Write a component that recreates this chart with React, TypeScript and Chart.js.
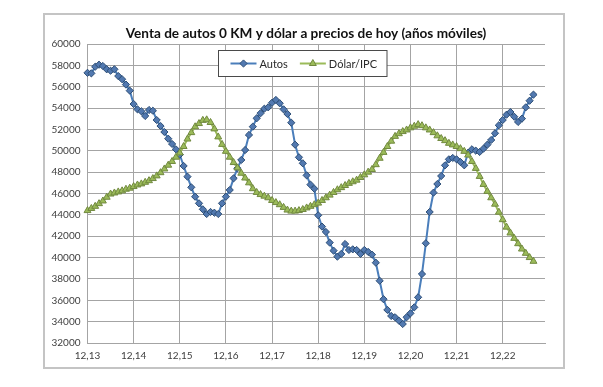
import React, { useEffect, useRef } from 'react';
import { Chart, registerables } from 'chart.js';
import { drawPoint } from 'chart.js/helpers';

Chart.register(...registerables);

const TITLE = 'Venta de autos 0 KM y dólar a precios de hoy (años móviles)';
const tickLabels = ['12,13', '12,14', '12,15', '12,16', '12,17', '12,18', '12,19', '12,20', '12,21', '12,22'];
const MONTHS_PER_TICK = 12;
const CATEGORY_COUNT = 120;
const seriesNames = ['Autos', 'Dólar/IPC'];
const Y_MIN = 32000;
const Y_MAX = 60000;
const Y_STEP = 2000;

const autos = [
  57300, 57250, 57870, 58060, 57940, 57630, 57500, 57630, 57000, 56700,
  56200, 55630, 54380, 53880, 53700, 53260, 53820, 53750, 52880, 52320,
  51760, 51130, 50640, 50140, 49640, 48580, 47580, 46580, 45700, 45080,
  44520, 44080, 44270, 44200, 44080, 45080, 45700, 46330, 47420, 48360,
  49140, 50070, 51480, 52260, 53040, 53510, 53940, 54070, 54500, 54760,
  54450, 53880, 53450, 52630, 50570, 49390, 48830, 47700, 46830, 46450,
  43960, 42900, 42400, 41400, 40650, 40090, 40340, 41270, 40710, 40770,
  40710, 40340, 40710, 40530, 40270, 39520, 37830, 36100, 35100, 34530,
  34410, 34090, 33780, 34410, 34780, 35340, 36280, 38460, 41340, 44270,
  46080, 46890, 47640, 48640, 49200, 49330, 49200, 48950, 48640, 49820,
  50140, 50010, 49890, 50200, 50570, 51010, 51640, 52390, 52880, 53380,
  53630, 53190, 52700, 53010, 54070, 54690, 55260,
];

const dolarIpc = [
  44400, 44600, 44800, 45050, 45300, 45650, 45950, 46050, 46150, 46250,
  46400, 46500, 46650, 46800, 46900, 47050, 47200, 47400, 47650, 47950,
  48300, 48650, 49000, 49400, 49800, 50400, 51100, 51700, 52250, 52550,
  52850, 52900, 52650, 52050, 51300, 50600, 49950, 49400, 48900, 48400,
  47900, 47450, 47000, 46450, 46100, 45900, 45750, 45600, 45350, 45150,
  44950, 44700, 44450, 44350, 44350, 44400, 44500, 44650, 44800, 44950,
  45100, 45350, 45600, 45850, 46100, 46350, 46550, 46750, 46950, 47100,
  47250, 47500, 47750, 48000, 48250, 48700, 49300, 49850, 50400, 50900,
  51350, 51600, 51800, 51950, 52150, 52300, 52450, 52350, 52150, 51950,
  51700, 51400, 51150, 50950, 50700, 50550, 50400, 50200, 49950, 49600,
  49000, 48350, 47600, 46850, 46200, 45600, 45000, 44250, 43550, 42850,
  42300, 41800, 41300, 40800, 40400, 40000, 39650,
];

const categories = Array.from({ length: CATEGORY_COUNT }, (_, i) =>
  i % MONTHS_PER_TICK === 0 ? tickLabels[i / MONTHS_PER_TICK] ?? '' : ''
);

const FONT = 'Lato, "Open Sans", sans-serif';
const GRID = '#a4a4a4';

const chartTitle = {
  id: 'chartTitle',
  afterDraw(chart: any) {
    const ctx = chart.ctx as CanvasRenderingContext2D;
    ctx.save();
    ctx.font = `bold 13.6px ${FONT}`;
    ctx.fillStyle = '#111111';
    ctx.textAlign = 'center';
    ctx.textBaseline = 'middle';
    ctx.fillText(TITLE, chart.width / 2 + 2, 18.5);
    ctx.restore();
  },
};

const boxLegend = {
  id: 'boxLegend',
  afterDraw(chart: any) {
    const ctx = chart.ctx as CanvasRenderingContext2D;
    const datasets = chart.data.datasets;
    ctx.save();
    ctx.font = `11px ${FONT}`;
    const lineLen = 26;
    const gapLT = 3;
    const gapItems = 12;
    const padL = 12;
    const padR = 10;
    const h = 26;
    const widths = datasets.map((d: any) => ctx.measureText(d.label).width);
    const total =
      padL + padR + widths.reduce((s: number, w: number) => s + lineLen + gapLT + w, 0) + gapItems * (datasets.length - 1);
    const left = Math.round(chart.width / 2 - total / 2) - 1.5;
    const top = Math.round(chart.chartArea.top + 6) + 0.5;
    ctx.fillStyle = '#ffffff';
    ctx.fillRect(left, top, total, h);
    ctx.strokeStyle = '#4a4a4a';
    ctx.lineWidth = 1;
    ctx.strokeRect(left, top, total, h);
    const cy = top + h / 2;
    let x = left + padL;
    datasets.forEach((d: any, i: number) => {
      ctx.strokeStyle = d.borderColor;
      ctx.lineWidth = d.borderWidth;
      ctx.beginPath();
      ctx.moveTo(x, cy);
      ctx.lineTo(x + lineLen, cy);
      ctx.stroke();
      ctx.fillStyle = d.pointBackgroundColor;
      ctx.strokeStyle = d.pointBorderColor;
      ctx.lineWidth = d.pointBorderWidth;
      drawPoint(ctx, { pointStyle: d.pointStyle, radius: d.pointRadius, rotation: 0, borderWidth: d.pointBorderWidth } as any, x + lineLen / 2, cy);
      x += lineLen + gapLT;
      ctx.fillStyle = '#2a2a2a';
      ctx.textBaseline = 'middle';
      ctx.textAlign = 'left';
      ctx.fillText(d.label, x, cy + 0.5);
      x += widths[i] + gapItems;
    });
    ctx.restore();
  },
};

export default function App() {
  const ref = useRef<HTMLCanvasElement | null>(null);

  useEffect(() => {
    if (!ref.current) return;
    const chart = new Chart(ref.current, {
      type: 'line',
      data: {
        labels: categories,
        datasets: [
          {
            label: seriesNames[0],
            data: autos,
            borderColor: '#4a7ebb',
            borderWidth: 2,
            pointStyle: 'rectRot',
            pointRadius: 3.6,
            pointBackgroundColor: '#5279b0',
            pointBorderColor: '#2c4d75',
            pointBorderWidth: 1,
            tension: 0,
            clip: false,
            order: 1,
          },
          {
            label: seriesNames[1],
            data: dolarIpc,
            borderColor: '#9bbb59',
            borderWidth: 2,
            pointStyle: 'triangle',
            pointRadius: 4,
            pointBackgroundColor: '#9bbb59',
            pointBorderColor: '#71893f',
            pointBorderWidth: 1,
            tension: 0,
            clip: false,
            order: 0,
          },
        ] as any,
      },
      options: {
        responsive: false,
        animation: false,
        devicePixelRatio: 1,
        layout: { padding: { left: 0, right: 18, top: 29, bottom: 0 } },
        plugins: {
          legend: { display: false },
          tooltip: { enabled: false },
          title: { display: false },
        },
        scales: {
          x: {
            type: 'category',
            offset: false,
            grid: {
              color: (c: any) => (c.index % MONTHS_PER_TICK === 0 ? GRID : 'rgba(0,0,0,0)'),
              drawTicks: false,
              lineWidth: 1,
            },
            border: { display: true, color: GRID, width: 1 },
            ticks: {
              autoSkip: false,
              maxRotation: 0,
              minRotation: 0,
              padding: 7,
              color: '#404040',
              font: { family: FONT, size: 10 },
            },
            afterFit: (s: any) => {
              s.height = 24;
            },
          },
          y: {
            min: Y_MIN,
            max: Y_MAX,
            grid: { color: GRID, drawTicks: false, lineWidth: 1 },
            border: { display: true, color: GRID, width: 1 },
            ticks: {
              stepSize: Y_STEP,
              padding: 7,
              color: '#404040',
              font: { family: FONT, size: 10 },
              callback: (v: any) => String(v),
            },
            afterFit: (s: any) => {
              s.width = 42.5;
            },
          },
        },
      },
      plugins: [chartTitle, boxLegend],
    });
    return () => chart.destroy();
  }, []);

  return (
    <div
      style={{
        position: 'absolute',
        left: 43,
        top: 13,
        width: 518,
        height: 352,
        border: '2px solid #c4c4c4',
        background: '#ffffff',
      }}
    >
      <canvas ref={ref} width={518} height={352} style={{ display: 'block' }} />
    </div>
  );
}
